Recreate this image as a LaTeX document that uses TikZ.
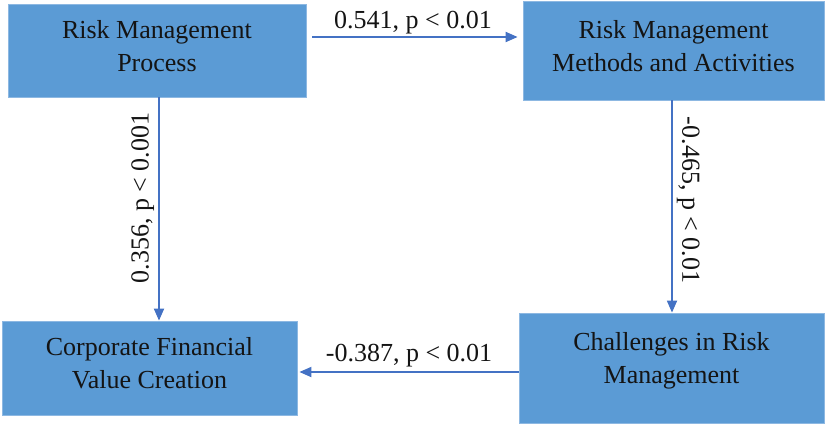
\documentclass[tikz,border=0pt]{standalone}
\usepackage{fontspec}
\setmainfont{Liberation Serif}
\usetikzlibrary{arrows.meta}
\definecolor{boxfill}{HTML}{5B9BD5}
\definecolor{boxline}{HTML}{8DB8E2}
\definecolor{arrcol}{HTML}{4472C4}
\definecolor{txt}{HTML}{141414}
\tikzset{
  stepbox/.style={draw=boxline, line width=0.8pt, fill=boxfill, inner sep=0pt},
  boxtext/.style={align=center, text=txt, font=\fontsize{26}{33}\selectfont, inner sep=0pt},
  arr/.style={draw=arrcol, line width=1.8pt, -{Triangle[length=12pt,width=10pt]}},
  lab/.style={text=txt, font=\fontsize{26}{30}\selectfont, inner sep=1pt}
}
\begin{document}
\begin{tikzpicture}[x=1pt,y=-1pt]
\useasboundingbox[fill=white] (0,0) rectangle (826,426);
\node[stepbox, minimum width=298pt, minimum height=93pt] (tl) at (157,50.5) {};
\node[stepbox, minimum width=301pt, minimum height=99pt] (tr) at (673.5,50.5) {};
\node[stepbox, minimum width=295pt, minimum height=94pt] (bl) at (149.5,368) {};
\node[stepbox, minimum width=305pt, minimum height=110pt] (br) at (671.5,368) {};
\node[boxtext] (tlt) at ([yshift=4pt]tl.center) {Risk Management\\Process};
\node[boxtext] (trt) at ([yshift=4pt]tr.center) {Risk Management\\Methods and Activities};
\node[boxtext] (blt) at ([yshift=5pt]bl.center) {Corporate Financial\\Value Creation};
\node[boxtext] (brt) at ([yshift=7pt]br.center) {Challenges in Risk\\Management};
\draw[arr] ([xshift=6pt,yshift=13.5pt]tl.east) -- ([xshift=-5pt,yshift=13.5pt]tl.east -| tr.west)
  node[lab, pos=0.49, anchor=south, yshift=1pt] (l1) {0.541, p < 0.01};
\draw[arr] ([xshift=2pt]tl.south) -- ([xshift=2pt]tl.south |- bl.north)
  node[lab, pos=0.45, anchor=south, rotate=90, yshift=3pt] (l2) {0.356, p < 0.001};
\draw[arr] ([xshift=-1.5pt]tr.south) -- ([xshift=-1.5pt]tr.south |- br.north)
  node[lab, pos=0.47, anchor=south, rotate=-90, yshift=3pt] (l3) {-0.465, p < 0.01};
\draw[arr] ([yshift=-4pt]br.west) -- ([xshift=2pt,yshift=-4pt]br.west -| bl.east)
  node[lab, pos=0.5, anchor=south, yshift=3pt] (l4) {-0.387, p < 0.01};
\end{tikzpicture}
\end{document}
